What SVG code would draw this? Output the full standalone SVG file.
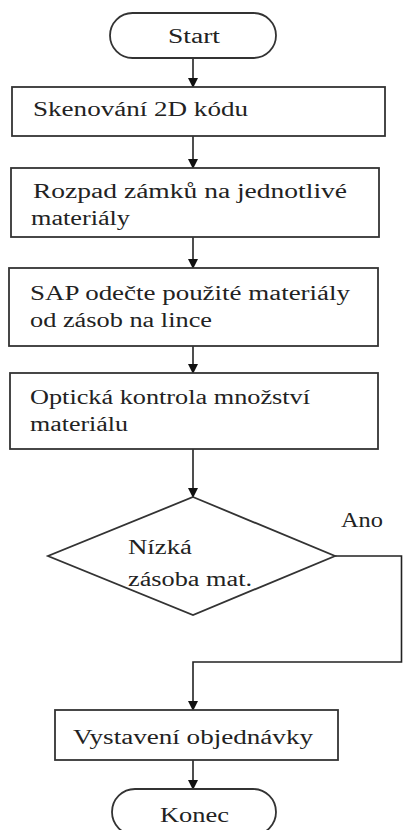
<svg xmlns="http://www.w3.org/2000/svg" width="403" height="830" viewBox="0 0 403 830">
<style>
.shape{fill:#fff;stroke:#333;stroke-width:1.8}
.conn{fill:none;stroke:#222;stroke-width:1.6}
.t{font-size:20px;fill:#222}
</style>
<defs>
<marker id="arr" markerWidth="10" markerHeight="10" refX="9" refY="5" orient="auto" markerUnits="userSpaceOnUse">
<path d="M0,0 L10,5 L0,10 Z" fill="#111"/>
</marker>
</defs>
<rect width="403" height="830" fill="#fff"/>
<g font-family="Liberation Serif, Times New Roman, DejaVu Serif, serif">
<g id="connectors">
<line class="conn" x1="193" y1="58" x2="193" y2="87" marker-end="url(#arr)"/>
<line class="conn" x1="193" y1="136" x2="193" y2="168" marker-end="url(#arr)"/>
<line class="conn" x1="193" y1="237" x2="193" y2="268" marker-end="url(#arr)"/>
<line class="conn" x1="193" y1="346" x2="193" y2="373" marker-end="url(#arr)"/>
<line class="conn" x1="193" y1="449" x2="193" y2="497" marker-end="url(#arr)"/>
<polyline class="conn" points="335,556 401.5,556 401.5,662 193,662 193,710" marker-end="url(#arr)"/>
<line class="conn" x1="193" y1="760" x2="193" y2="789" marker-end="url(#arr)"/>
<text class="t" x="341" y="527" textLength="42" lengthAdjust="spacingAndGlyphs">Ano</text>
</g>
<g id="start">
<rect class="shape" x="110" y="13" width="166" height="45" rx="22.5"/>
<text class="t" x="168" y="43" textLength="52" lengthAdjust="spacingAndGlyphs">Start</text>
</g>
<g id="scan">
<rect class="shape" x="12" y="87" width="373" height="49"/>
<text class="t" x="33" y="116" textLength="215" lengthAdjust="spacingAndGlyphs">Skenování 2D kódu</text>
</g>
<g id="rozpad">
<rect class="shape" x="11" y="168" width="368" height="69"/>
<text class="t" x="33" y="198" textLength="314" lengthAdjust="spacingAndGlyphs">Rozpad zámků na jednotlivé</text>
<text class="t" x="31" y="225" textLength="99" lengthAdjust="spacingAndGlyphs">materiály</text>
</g>
<g id="sap">
<rect class="shape" x="9" y="268" width="369" height="78"/>
<text class="t" x="30" y="300" textLength="320" lengthAdjust="spacingAndGlyphs">SAP odečte použité materiály</text>
<text class="t" x="30" y="327" textLength="182" lengthAdjust="spacingAndGlyphs">od zásob na lince</text>
</g>
<g id="opticka">
<rect class="shape" x="10" y="373" width="368" height="76"/>
<text class="t" x="30" y="404" textLength="280" lengthAdjust="spacingAndGlyphs">Optická kontrola množství</text>
<text class="t" x="30" y="431" textLength="98" lengthAdjust="spacingAndGlyphs">materiálu</text>
</g>
<g id="decision">
<polygon class="shape" points="193,497 335,556 193,615 48,556"/>
<text class="t" x="128" y="554" textLength="64" lengthAdjust="spacingAndGlyphs">Nízká</text>
<text class="t" x="128" y="586" textLength="124" lengthAdjust="spacingAndGlyphs">zásoba mat.</text>
</g>
<g id="objednavka">
<rect class="shape" x="55" y="710" width="283" height="50"/>
<text class="t" x="73" y="744" textLength="240" lengthAdjust="spacingAndGlyphs">Vystavení objednávky</text>
</g>
<g id="konec">
<rect class="shape" x="112" y="789" width="164" height="46" rx="23"/>
<text class="t" x="160" y="822" textLength="69" lengthAdjust="spacingAndGlyphs">Konec</text>
</g>
</g>
</svg>
